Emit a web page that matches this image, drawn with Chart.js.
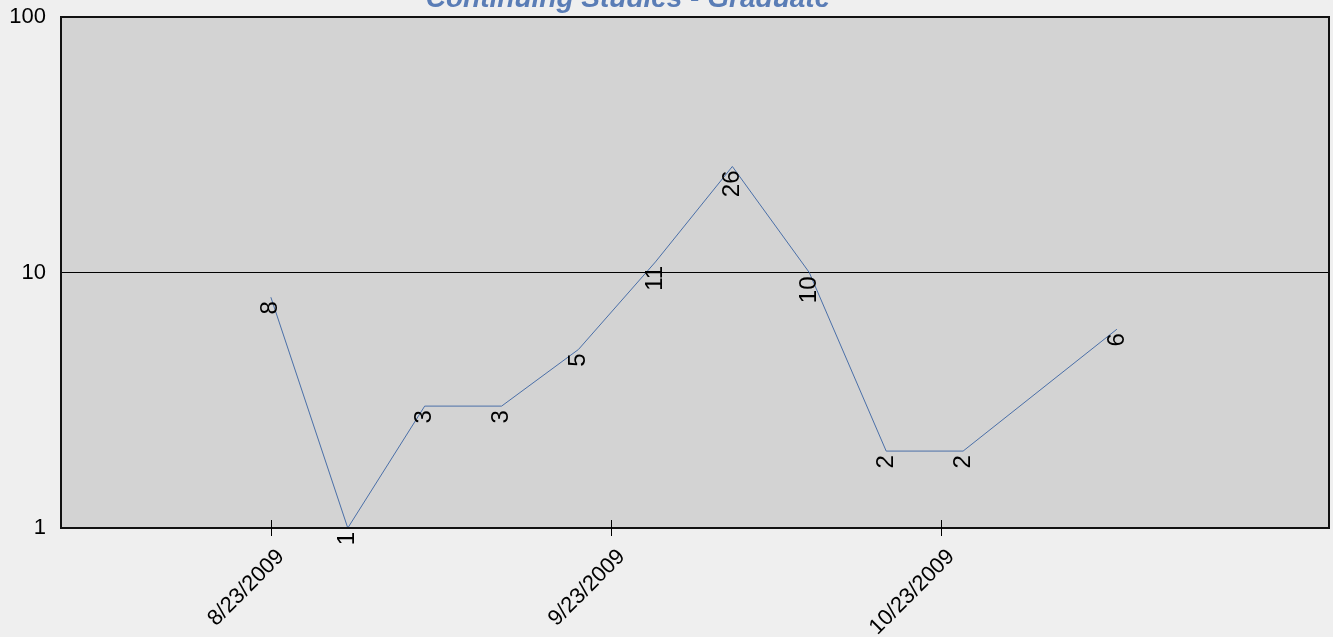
<!DOCTYPE html>
<html>
<head>
<meta charset="utf-8">
<script src="https://cdn.jsdelivr.net/npm/chart.js@4.4.1/dist/chart.umd.min.js"></script>
<style>
  html, body { margin: 0; padding: 0; background: #efefef; }
  canvas { display: block; }
</style>
</head>
<body>
<canvas id="chart" width="1333" height="637"></canvas>
<script>
// weekly counts (11/1 has no point)
const dates = ['8/23/2009','8/30/2009','9/6/2009','9/13/2009','9/20/2009','9/27/2009','10/4/2009','10/11/2009','10/18/2009','10/25/2009','11/8/2009'];
const counts = [8, 1, 3, 3, 5, 11, 26, 10, 2, 2, 6];
const xTickLabels = ['8/23/2009', '9/23/2009', '10/23/2009'];
const yTicks = [1, 10, 100];
const xRange = ['8/4/2009', '11/27/2009'];
const title = 'Continuing Studies - Graduate';

const FONT = 'Liberation Sans, Arial, sans-serif';

// days since 8/23/2009
function dayNum(s){
  const p = s.split('/').map(Number);
  return (Date.UTC(p[2], p[0]-1, p[1]) - Date.UTC(2009, 7, 23)) / 86400000;
}
const xTicks = xTickLabels.map(dayNum);

const bgPlugin = {
  id: 'bg',
  beforeDraw(chart){
    const ctx = chart.ctx, a = chart.chartArea;
    ctx.save();
    ctx.fillStyle = '#efefef';
    ctx.fillRect(0, 0, chart.width, chart.height);
    ctx.fillStyle = '#d3d3d3';
    ctx.fillRect(a.left, a.top, a.right - a.left, a.bottom - a.top);
    ctx.restore();
  },
  afterDraw(chart){
    const ctx = chart.ctx, a = chart.chartArea;
    const xs = chart.scales.x;
    ctx.save();
    // frame
    ctx.strokeStyle = '#111';
    ctx.lineWidth = 2;
    ctx.strokeRect(a.left, a.top, a.right - a.left, a.bottom - a.top);
    // tick marks across the bottom axis
    ctx.lineWidth = 1;
    ctx.strokeStyle = '#000';
    xTicks.forEach(v => {
      const px = Math.round(xs.getPixelForValue(v)) + 0.5;
      ctx.beginPath();
      ctx.moveTo(px, a.bottom - 8);
      ctx.lineTo(px, a.bottom + 8);
      ctx.stroke();
    });
    // point labels, rotated
    const meta = chart.getDatasetMeta(0);
    ctx.fillStyle = '#000';
    ctx.font = '24px ' + FONT;
    ctx.textAlign = 'right';
    ctx.textBaseline = 'middle';
    meta.data.forEach((pt, i) => {
      ctx.save();
      ctx.translate(pt.x, pt.y + 4);
      ctx.rotate(-Math.PI / 2);
      ctx.fillText(String(counts[i]), 0, 0);
      ctx.restore();
    });
    // title (runs off the top edge)
    ctx.fillStyle = '#5a7db6';
    ctx.font = 'italic bold 28px ' + FONT;
    ctx.textAlign = 'center';
    ctx.textBaseline = 'alphabetic';
    ctx.fillText(title, 628, 7);
    ctx.restore();
  }
};

function noPad(s){
  s.paddingTop = 0; s.paddingBottom = 0; s.paddingLeft = 0; s.paddingRight = 0;
}

new Chart(document.getElementById('chart').getContext('2d'), {
  type: 'line',
  data: {
    datasets: [{
      data: dates.map((d, i) => ({ x: dayNum(d), y: counts[i] })),
      borderColor: '#4a6fa8',
      borderWidth: 1,
      pointRadius: 0,
      tension: 0,
      fill: false
    }]
  },
  options: {
    responsive: false,
    animation: false,
    devicePixelRatio: 1,
    layout: { padding: { top: 17, right: 4, left: 0, bottom: 0 } },
    plugins: { legend: { display: false }, tooltip: { enabled: false }, title: { display: false } },
    scales: {
      x: {
        type: 'linear',
        min: dayNum(xRange[0]) - 0.1,
        max: dayNum(xRange[1]) + 0.3,
        afterBuildTicks: s => { s.ticks = xTicks.map(v => ({ value: v })); },
        afterFit: s => { s.height = 109; noPad(s); },
        grid: { display: false },
        border: { display: false },
        ticks: {
          autoSkip: false,
          maxRotation: 45,
          minRotation: 45,
          padding: 8,
          labelOffset: 10,
          color: '#000',
          font: { family: FONT, size: 22 },
          callback: v => xTickLabels[xTicks.indexOf(v)] || ''
        }
      },
      y: {
        type: 'logarithmic',
        min: 1,
        max: 100,
        afterBuildTicks: s => { s.ticks = yTicks.map(v => ({ value: v })); },
        afterFit: s => { s.width = 61; noPad(s); },
        grid: {
          drawTicks: false,
          color: '#000',
          lineWidth: c => (c.tick && c.tick.value === 10) ? 1 : 0
        },
        border: { display: false },
        ticks: {
          padding: 15,
          color: '#000',
          font: { family: FONT, size: 22 },
          callback: v => String(v)
        }
      }
    }
  },
  plugins: [bgPlugin]
});
</script>
</body>
</html>
